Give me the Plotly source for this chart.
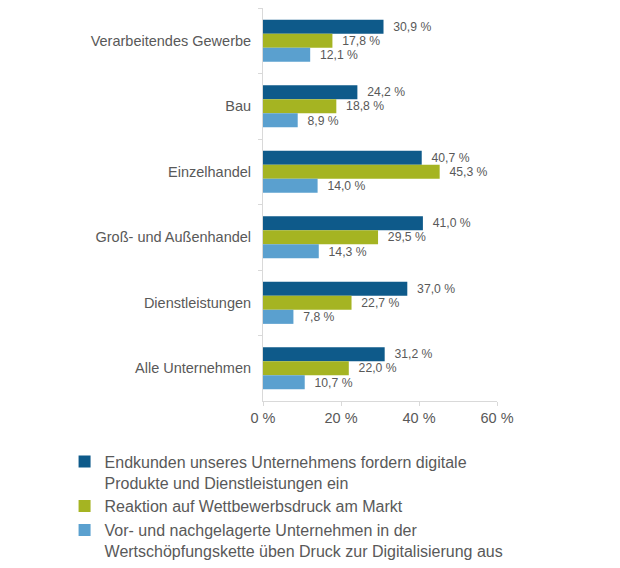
import plotly.graph_objects as go

# --- Daten ---
branchen = ["Verarbeitendes Gewerbe", "Bau", "Einzelhandel",
            "Groß- und Außenhandel", "Dienstleistungen", "Alle Unternehmen"]
endkunden = [30.9, 24.2, 40.7, 41.0, 37.0, 31.2]
wettbewerb = [17.8, 18.8, 45.3, 29.5, 22.7, 22.0]
wertschoepfung = [12.1, 8.9, 14.0, 14.3, 7.8, 10.7]
achsen_werte = [0, 20, 40, 60]
achsen_text = ["0 %", "20 %", "40 %", "60 %"]

serien = [
    ("Endkunden unseres Unternehmens fordern digitale<br>Produkte und Dienstleistungen ein", endkunden, "#0e5a8a"),
    ("Reaktion auf Wettbewerbsdruck am Markt", wettbewerb, "#a5b422"),
    ("Vor- und nachgelagerte Unternehmen in der<br>Wertschöpfungskette üben Druck zur Digitalisierung aus", wertschoepfung, "#5aa0cf"),
]

grau = "#595959"
schrift = "Liberation Sans, Arial, sans-serif"


def fmt(v):
    return "\u00a0\u00a0" + f"{v:.1f}".replace(".", ",") + " %"


fig = go.Figure()
for name, werte, farbe in serien:
    fig.add_trace(go.Bar(
        y=branchen,
        x=werte,
        orientation="h",
        name=name,
        marker=dict(color=farbe, line=dict(width=0)),
        text=[fmt(v) for v in werte],
        textposition="outside",
        textfont=dict(size=13, color=grau, family=schrift),
        cliponaxis=False,
        hoverinfo="skip",
    ))

# Seite hat 8px Rand im Browser -> Figur etwas kleiner
fig.update_layout(
    width=612, height=560,
    barmode="group",
    bargap=0.355,
    bargroupgap=0,
    plot_bgcolor="white",
    paper_bgcolor="white",
    font=dict(family=schrift, color=grau, size=14.5),
    margin=dict(l=255, r=123, t=0, b=164),
    showlegend=True,
    legend=dict(
        x=-0.848, xanchor="left",
        y=-0.111, yanchor="top",
        font=dict(size=16, color=grau, family=schrift),
        valign="top",
        traceorder="normal",
        tracegroupgap=0,
        bgcolor="rgba(0,0,0,0)",
    ),
)

fig.update_xaxes(
    range=[0, 60],
    tickvals=achsen_werte,
    ticktext=achsen_text,
    showgrid=False,
    zeroline=False,
    showline=True,
    linecolor="#d9d9d9",
    ticks="outside",
    ticklen=4,
    tickcolor="#d9d9d9",
    tickfont=dict(size=14.5, color=grau),
)

fig.update_yaxes(
    autorange="reversed",
    showgrid=False,
    showline=True,
    linecolor="#d9d9d9",
    ticks="outside",
    tickson="boundaries",
    ticklen=4,
    tickcolor="#d9d9d9",
    ticklabelstandoff=8,
    tickfont=dict(size=14.5, color=grau),
)

fig.write_html("out.html")
